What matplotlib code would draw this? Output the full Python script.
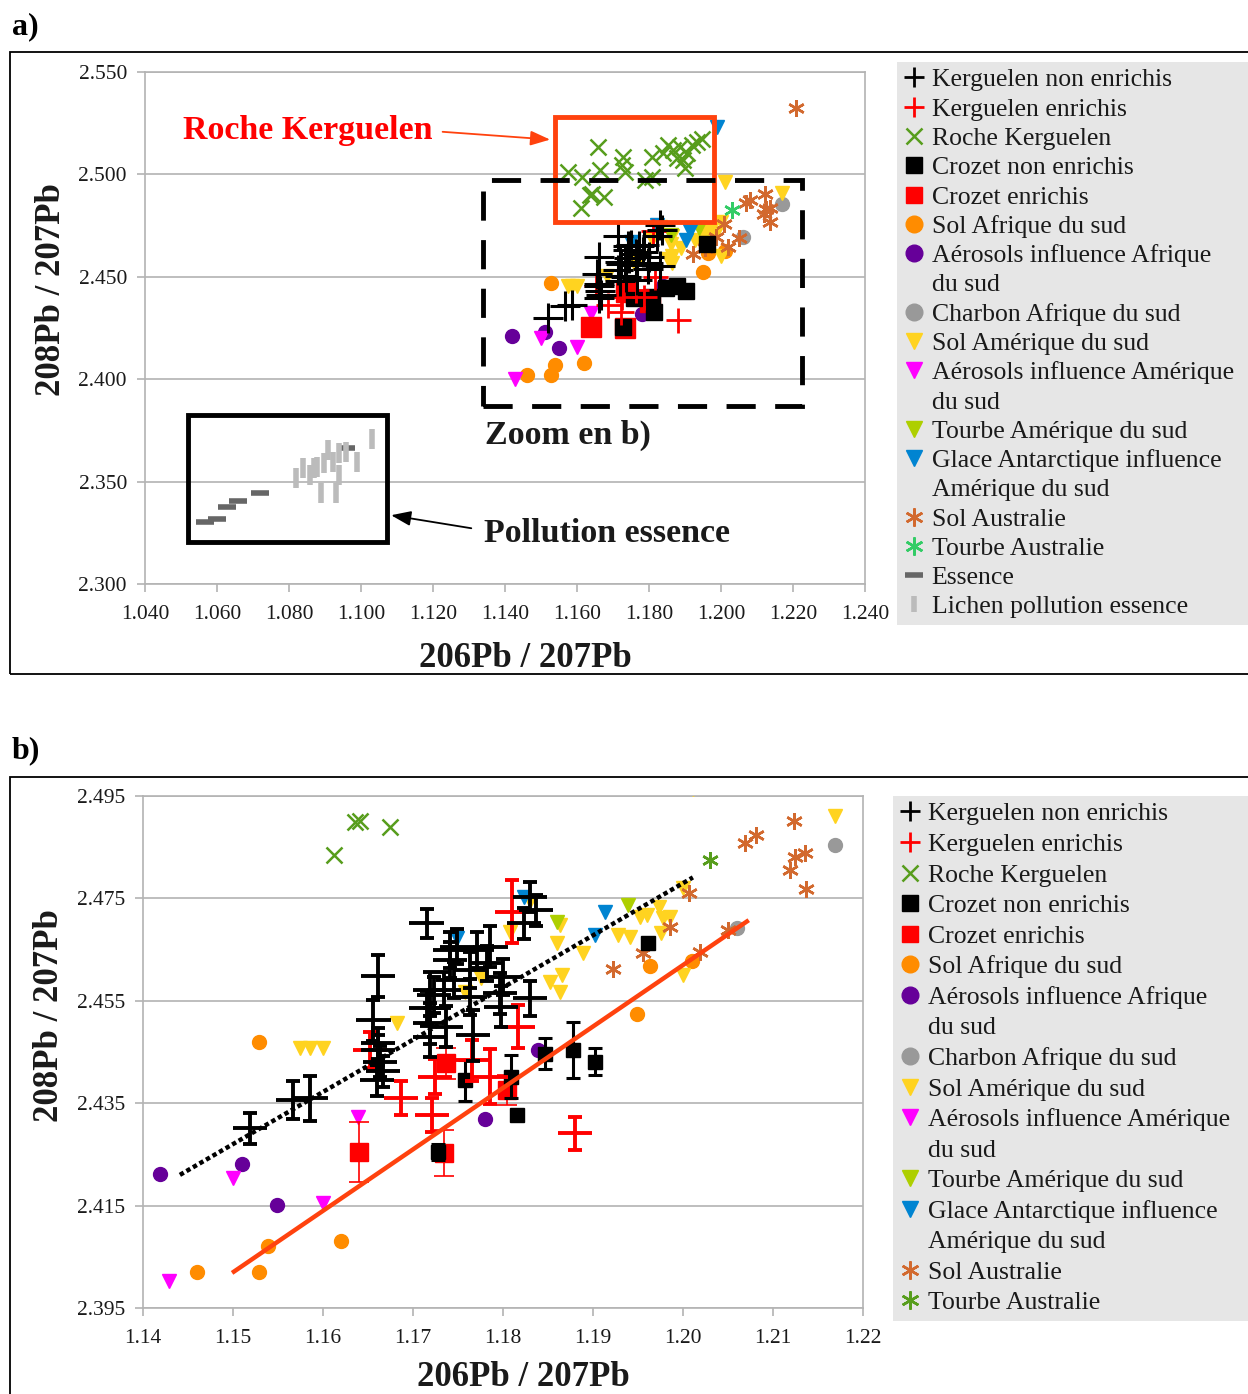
"""
Rapports isotopiques du plomb : 208Pb/207Pb en fonction de 206Pb/207Pb.
a) vue générale avec roches et pollution essence ; b) zoom sur les échantillons.
"""

import matplotlib.pyplot as plt
from matplotlib.lines import Line2D
from matplotlib.patches import Rectangle

plt.rcParams['font.family'] = ['Liberation Serif', 'DejaVu Serif']

W, H = 1248, 1394

# ---------------------------------------------------------------- données
# Kerguelen non enrichis (croix avec barres d'erreur)
ker_ne_x = [1.1519, 1.1567, 1.1586, 1.1661, 1.1663, 1.1667, 1.1660, 1.1661, 1.1656,
            1.1661, 1.1715, 1.1749, 1.1771, 1.1786, 1.1782, 1.1763, 1.1800, 1.1797,
            1.1830, 1.1741, 1.1745, 1.1734, 1.1723, 1.1715, 1.1763, 1.1767, 1.1719,
            1.1719, 1.1737, 1.1798, 1.1830, 1.1837, 1.1823, 1.1719, 1.1741]
ker_ne_y = [2.4301, 2.4356, 2.4360, 2.4454, 2.4431, 2.4412, 2.4395, 2.4467, 2.4512,
            2.4599, 2.4701, 2.4656, 2.4649, 2.4656, 2.4623, 2.4610, 2.4597, 2.4565,
            2.4555, 2.4630, 2.4591, 2.4571, 2.4561, 2.4535, 2.4558, 2.4483, 2.4506,
            2.4480, 2.4499, 2.4538, 2.4753, 2.4727, 2.4701, 2.4571, 2.4649]
ker_ne_yerr = [0.0030, 0.0037, 0.0044, 0.0030, 0.0030, 0.0030, 0.0030, 0.0030, 0.0040,
               0.0041, 0.0029, 0.0035, 0.0035, 0.0040, 0.0035, 0.0035, 0.0035, 0.0040,
               0.0034, 0.0035, 0.0035, 0.0035, 0.0035, 0.0035, 0.0035, 0.0050, 0.0040,
               0.0040, 0.0040, 0.0040, 0.0030, 0.0030, 0.0030, 0.0035, 0.0035]
ker_ne_xerr = 0.0019

# Kerguelen enrichis
ker_e_x = [1.1687, 1.1721, 1.1786, 1.1880, 1.1817, 1.1765, 1.1652, 1.1724, 1.1810]
ker_e_y = [2.4360, 2.4327, 2.4402, 2.4291, 2.4499, 2.4434, 2.4454, 2.4402, 2.4724]
ker_e_yerr = [0.0033, 0.0033, 0.0054, 0.0033, 0.0042, 0.0040, 0.0035, 0.0035, 0.0062]
ker_e_xerr = 0.0019

# Roche Kerguelen
roche_x = [1.1659, 1.1576, 1.1613, 1.1664, 1.1729, 1.1724, 1.1733, 1.1636, 1.1641,
           1.1674, 1.1612, 1.1789, 1.1807, 1.1840, 1.1854, 1.1868, 1.1877, 1.1886,
           1.1895, 1.1905, 1.1919, 1.1932, 1.1946, 1.1900, 1.1807]
roche_y = [2.5135, 2.5013, 2.4989, 2.5021, 2.5086, 2.5046, 2.5013, 2.4899, 2.4902,
           2.4890, 2.4835, 2.4973, 2.5086, 2.5103, 2.5144, 2.5119, 2.5079, 2.5135,
           2.5070, 2.5103, 2.5144, 2.5160, 2.5171, 2.5030, 2.4989]

# Crozet non enrichis
croz_ne_x = [1.1961, 1.1728, 1.1758, 1.1809, 1.1815, 1.1847, 1.1878, 1.1902]
croz_ne_y = [2.4662, 2.4255, 2.4395, 2.4402, 2.4327, 2.4447, 2.4454, 2.4431]
croz_ne_yerr = [0.0, 0.0015, 0.0040, 0.0042, 0.0, 0.0030, 0.0055, 0.0026]

# Crozet enrichis
croz_e_x = [1.1640, 1.1734, 1.1737, 1.1804]
croz_e_y = [2.4255, 2.4252, 2.4428, 2.4376]
croz_e_yerr = [0.0059, 0.0045, 0.0030, 0.0030]

# Sol Afrique du sud
sol_af_x = [1.1529, 1.1460, 1.1529, 1.1539, 1.1620, 1.1963, 1.2010, 1.1949]
sol_af_y = [2.4470, 2.4021, 2.4021, 2.4071, 2.4081, 2.4617, 2.4628, 2.4524]

# Aérosols influence Afrique du sud
aer_af_x = [1.1419, 1.1510, 1.1549, 1.1780, 1.1839]
aer_af_y = [2.4211, 2.4231, 2.4151, 2.4320, 2.4453]

# Charbon Afrique du sud
charbon_x = [1.2169, 1.2060]
charbon_y = [2.4854, 2.4692]

# Sol Amérique du sud
sol_am_x = [1.1574, 1.1586, 1.1600, 1.1682, 1.1758, 1.1776, 1.1808, 1.1830, 1.1863,
            1.1860, 1.1852, 1.1865, 1.1863, 1.1889, 1.1928, 1.1941, 1.1952, 1.1960,
            1.1973, 1.1978, 1.1986, 1.1976, 1.2000, 1.2000, 1.2169, 1.2011]
sol_am_y = [2.4457, 2.4457, 2.4457, 2.4506, 2.4568, 2.4594, 2.4685, 2.4744, 2.4698,
            2.4662, 2.4587, 2.4600, 2.4568, 2.4643, 2.4679, 2.4675, 2.4714, 2.4718,
            2.4734, 2.4711, 2.4714, 2.4682, 2.4770, 2.4600, 2.4910, 2.4963]

# Aérosols influence Amérique du sud
aer_am_x = [1.1429, 1.1500, 1.1600, 1.1639]
aer_am_y = [2.4003, 2.4203, 2.4156, 2.4324]

# Tourbe Amérique du sud
tourbe_am_x = [1.1939, 1.1860]
tourbe_am_y = [2.4737, 2.4704]

# Glace Antarctique influence Amérique du sud
glace_x = [1.1823, 1.1913, 1.1902, 1.1749, 1.1989]
glace_y = [2.4753, 2.4724, 2.4679, 2.4672, 2.5231]

# Sol Australie
sol_au_x = [1.2123, 1.2069, 1.2081, 1.2124, 1.2136, 1.2119, 1.2137, 1.2007, 1.1986,
            1.2050, 1.2019, 1.1922, 1.1956, 1.2208]
sol_au_y = [2.4902, 2.4858, 2.4874, 2.4831, 2.4838, 2.4805, 2.4768, 2.4760, 2.4695,
            2.4688, 2.4646, 2.4613, 2.4643, 2.5324]

# Tourbe Australie
tourbe_au_x = [1.2030]
tourbe_au_y = [2.4825]

# Essence
essence_x = [1.0567, 1.0599, 1.0628, 1.0659, 1.0719, 1.0958]
essence_y = [2.3304, 2.3316, 2.3375, 2.3407, 2.3446, 2.3666]

# Lichen pollution essence
lichen_x = [1.0819, 1.0840, 1.0858, 1.0869, 1.0879, 1.0888, 1.0897, 1.0909, 1.0923,
            1.0930, 1.0940, 1.0940, 1.0958, 1.0990, 1.1030]
lichen_y = [2.3516, 2.3565, 2.3532, 2.3565, 2.3573, 2.3446, 2.3589, 2.3654, 2.3597,
            2.3446, 2.3532, 2.3638, 2.3646, 2.3594, 2.3707]

# Droites de tendance (panneau b)
tend_noir_x = [1.1441, 1.2011]
tend_noir_y = [2.4210, 2.4791]
tend_rouge_x = [1.1501, 1.2071]
tend_rouge_y = [2.4021, 2.4705]

labels = ["Kerguelen non enrichis", "Kerguelen enrichis", "Roche Kerguelen",
          "Crozet non enrichis", "Crozet enrichis", "Sol Afrique du sud",
          "Aérosols influence Afrique\ndu sud", "Charbon Afrique du sud",
          "Sol Amérique du sud", "Aérosols influence Amérique\ndu sud",
          "Tourbe Amérique du sud", "Glace Antarctique influence\nAmérique du sud",
          "Sol Australie", "Tourbe Australie", "Essence", "Lichen pollution essence"]

ticks_a_x = [1.04 + 0.02 * i for i in range(11)]
ticks_a_y = [2.30, 2.35, 2.40, 2.45, 2.50, 2.55]
ticks_b_x = [1.14 + 0.01 * i for i in range(9)]
ticks_b_y = [2.395, 2.415, 2.435, 2.455, 2.475, 2.495]

# ---------------------------------------------------------------- couleurs
NOIR = 'black'
ROUGE = '#ff0000'
VERT = '#579d1c'
ORANGE = '#ff8c00'
VIOLET = '#660099'
GRIS = '#999999'
JAUNE = '#ffd320'
MAGENTA = '#ff00ff'
VERT_CLAIR = '#aecf00'
BLEU = '#0084d1'
BRIQUE = '#d2692e'
ASTER = (6, 2, 0)
GRILLE = '#b3b3b3'
TEXTE = '#1a1a1a'

fig = plt.figure(figsize=(W / 100, H / 100), dpi=100)


def box(px0, py0, pw, ph):
    return [px0 / W, 1 - (py0 + ph) / H, pw / W, ph / H]


def draw_data(ax, zoom, tourbe_au_color):
    ms = 10
    if zoom:
        # Kerguelen : croix formées par les barres d'erreur
        lw = 2.8
        ax.errorbar(ker_e_x, ker_e_y, yerr=ker_e_yerr, fmt='none', ecolor=ROUGE,
                    elinewidth=lw, capsize=5, capthick=lw, zorder=4)
        ax.errorbar(ker_e_x, ker_e_y, xerr=ker_e_xerr, fmt='none', ecolor=ROUGE,
                    elinewidth=lw, capsize=0, zorder=4)
        ax.errorbar(ker_ne_x, ker_ne_y, yerr=ker_ne_yerr, fmt='none', ecolor=NOIR,
                    elinewidth=lw, capsize=5, capthick=lw, zorder=4.5)
        ax.errorbar(ker_ne_x, ker_ne_y, xerr=ker_ne_xerr, fmt='none', ecolor=NOIR,
                    elinewidth=lw, capsize=0, zorder=4.5)
        ax.errorbar(croz_e_x, croz_e_y, yerr=croz_e_yerr, fmt='s', color=ROUGE, ms=13,
                    ecolor=ROUGE, elinewidth=1.2, capsize=7, capthick=1.2, zorder=3.5)
        ax.errorbar(croz_ne_x, croz_ne_y, yerr=croz_ne_yerr, fmt='s', color=NOIR, ms=10,
                    ecolor=NOIR, elinewidth=2.2, capsize=5, capthick=2.2, zorder=3.6)
    else:
        ax.plot(ker_e_x, ker_e_y, ls='none', marker='+', color=ROUGE, ms=18, mew=2, zorder=4)
        ax.plot(ker_ne_x, ker_ne_y, ls='none', marker='+', color=NOIR, ms=22, mew=2.2,
                zorder=4.5)
        ax.plot(croz_e_x, croz_e_y, ls='none', marker='s', color=ROUGE, ms=14, zorder=3.5)
        ax.plot(croz_ne_x, croz_ne_y, ls='none', marker='s', color=NOIR, ms=11, zorder=3.6)
    # autres séries
    ax.plot(roche_x, roche_y, ls='none', marker='x', color=VERT, ms=12, mew=1.8, zorder=3)
    ax.plot(sol_af_x, sol_af_y, ls='none', marker='o', color=ORANGE, ms=ms, zorder=3)
    ax.plot(aer_af_x, aer_af_y, ls='none', marker='o', color=VIOLET, ms=ms, zorder=3)
    ax.plot(charbon_x, charbon_y, ls='none', marker='o', color=GRIS, ms=ms, zorder=3)
    ax.plot(sol_am_x, sol_am_y, ls='none', marker='v', color=JAUNE, ms=ms, zorder=3)
    ax.plot(aer_am_x, aer_am_y, ls='none', marker='v', color=MAGENTA, ms=ms, zorder=3)
    ax.plot(tourbe_am_x, tourbe_am_y, ls='none', marker='v', color=VERT_CLAIR, ms=ms, zorder=3)
    ax.plot(glace_x, glace_y, ls='none', marker='v', color=BLEU, ms=ms, zorder=3)
    ax.plot(sol_au_x, sol_au_y, ls='none', marker=ASTER, color=BRIQUE, ms=12, mew=1.8, zorder=3)
    ax.plot(tourbe_au_x, tourbe_au_y, ls='none', marker=ASTER, color=tourbe_au_color,
            ms=12, mew=1.8, zorder=3)


def style_axes(ax, xticks, yticks, xfmt, yfmt):
    ax.set_xlim(xticks[0], xticks[-1])
    ax.set_ylim(yticks[0], yticks[-1])
    ax.set_xticks(xticks)
    ax.set_yticks(yticks)
    ax.set_xticklabels([xfmt.format(v) for v in xticks])
    ax.set_yticklabels([yfmt.format(v) for v in yticks])
    for s in ax.spines.values():
        s.set_color(GRILLE)
        s.set_linewidth(1.2)
    ax.grid(axis='y', color=GRILLE, lw=1.2, zorder=0)
    ax.set_axisbelow(True)
    ax.tick_params(axis='both', direction='out', length=6, width=1.2, color=GRILLE,
                   labelsize=15.5, labelcolor=TEXTE)
    ax.tick_params(axis='x', pad=9)
    ax.tick_params(axis='y', pad=7)


def legend_handles(tourbe_au_color, pollution):
    h = [
        Line2D([], [], ls='none', marker='+', color=NOIR, ms=14, mew=2),
        Line2D([], [], ls='none', marker='+', color=ROUGE, ms=14, mew=2),
        Line2D([], [], ls='none', marker='x', color=VERT, ms=12, mew=1.8),
        Line2D([], [], ls='none', marker='s', color=NOIR, ms=12),
        Line2D([], [], ls='none', marker='s', color=ROUGE, ms=12),
        Line2D([], [], ls='none', marker='o', color=ORANGE, ms=12),
        Line2D([], [], ls='none', marker='o', color=VIOLET, ms=12),
        Line2D([], [], ls='none', marker='o', color=GRIS, ms=12),
        Line2D([], [], ls='none', marker='v', color=JAUNE, ms=12),
        Line2D([], [], ls='none', marker='v', color=MAGENTA, ms=12),
        Line2D([], [], ls='none', marker='v', color=VERT_CLAIR, ms=12),
        Line2D([], [], ls='none', marker='v', color=BLEU, ms=12),
        Line2D([], [], ls='none', marker=ASTER, color=BRIQUE, ms=13, mew=1.8),
        Line2D([], [], ls='none', marker=ASTER, color=tourbe_au_color, ms=13, mew=1.8),
    ]
    if pollution:
        h += [Line2D([], [], ls='none', marker='_', color='#666666', ms=13, mew=4),
              Line2D([], [], ls='none', marker='|', color='#bbbbbb', ms=12, mew=4)]
    return h


def add_legend(handles, px0, py0, py1, spacing):
    # les libellés sur deux lignes deviennent deux entrées (la 2e sans symbole)
    hh, ll = [], []
    for h, lab in zip(handles, labels):
        parts = lab.split('\n')
        hh.append(h)
        ll.append(parts[0])
        for p in parts[1:]:
            hh.append(Line2D([], [], ls='none'))
            ll.append(p)
    leg = fig.legend(hh, ll, loc='upper left',
                     bbox_to_anchor=(px0 / W, 1 - py1 / H, (1270 - px0) / W, (py1 - py0) / H),
                     bbox_transform=fig.transFigure, mode='expand',
                     borderaxespad=0, fontsize=18.5, frameon=True, fancybox=False,
                     facecolor='#e6e6e6', edgecolor='none', framealpha=1,
                     handlelength=0.85, handletextpad=0.25, borderpad=0.25,
                     labelspacing=spacing)
    for t in leg.get_texts():
        t.set_color(TEXTE)
    return leg


# ---------------------------------------------------------------- panneau a
ax_a = fig.add_axes(box(145, 72, 720, 512))
style_axes(ax_a, ticks_a_x, ticks_a_y, '{:.3f}', '{:.3f}')
draw_data(ax_a, False, '#33cc66')
ax_a.plot(essence_x, essence_y, ls='none', marker='_', color='#666666', ms=13, mew=4, zorder=3)
ax_a.plot(lichen_x, lichen_y, ls='none', marker='|', color='#bbbbbb', ms=14, mew=4, zorder=3)

# annotations
ax_a.add_patch(Rectangle((1.1539, 2.4768), 0.0442, 0.0512, fill=False,
                         edgecolor='#ff420e', lw=3.5, zorder=6))
ax_a.add_patch(Rectangle((1.1339, 2.3869), 0.0886, 0.1104, fill=False,
                         edgecolor='black', lw=3.5, ls=(0, (6, 4)), zorder=6))
ax_a.add_patch(Rectangle((1.0519, 2.3205), 0.0553, 0.0620, fill=False,
                         edgecolor='black', lw=3.5, zorder=6))
ax_a.text(1.0506, 2.5215, 'Roche Kerguelen', color=ROUGE, fontsize=24.5, fontweight='bold',
          va='center', ha='left', zorder=7)
ax_a.annotate('', xy=(1.1533, 2.5169), xytext=(1.1219, 2.5209),
              arrowprops=dict(arrowstyle='-|>,head_length=1.2,head_width=0.45',
                              color='#ff420e', lw=1.3), zorder=7)
ax_a.text(1.1344, 2.3728, 'Zoom en b)', color=TEXTE, fontsize=24.5, fontweight='bold',
          va='center', ha='left', zorder=7)
ax_a.text(1.1342, 2.3249, 'Pollution essence', color=TEXTE, fontsize=24.5,
          fontweight='bold', va='center', ha='left', zorder=7)
ax_a.annotate('', xy=(1.1076, 2.3338), xytext=(1.1314, 2.3270),
              arrowprops=dict(arrowstyle='-|>,head_length=1.2,head_width=0.45',
                              color='black', lw=1.3), zorder=7)

add_legend(legend_handles('#33cc66', True), 897, 62, 620, 0.245)

# ---------------------------------------------------------------- panneau b
ax_b = fig.add_axes(box(143, 796, 720, 512))
style_axes(ax_b, ticks_b_x, ticks_b_y, '{:.2f}', '{:.3f}')
draw_data(ax_b, True, VERT)
ax_b.plot(tend_noir_x, tend_noir_y, color='black', lw=3.2, ls=(0, (1, 0.7)), zorder=6)
ax_b.plot(tend_rouge_x, tend_rouge_y, color='#ff420e', lw=3.2, zorder=6)

add_legend(legend_handles(VERT, False), 893, 796, 1313, 0.295)

# ---------------------------------------------------------------- textes / cadres
lab = dict(fontsize=25, fontweight='bold', color=TEXTE, ha='center', va='center')
fig.text(52 / W, 1 - 290 / H, '208Pb / 207Pb', rotation=90, **lab)
fig.text(525 / W, 1 - 659 / H, '206Pb / 207Pb', **lab)
fig.text(50 / W, 1 - 1016 / H, '208Pb / 207Pb', rotation=90, **lab)
fig.text(523 / W, 1 - 1378 / H, '206Pb / 207Pb', **lab)
fig.text(12 / W, 1 - 27 / H, 'a)', fontsize=23, fontweight='bold', ha='left', va='center')
fig.text(12 / W, 1 - 751 / H, 'b)', fontsize=23, fontweight='bold', ha='left', va='center')

fig.patches.append(Rectangle((10 / W, 1 - 674 / H), 1.0, 622 / H, fill=False,
                             edgecolor='black', lw=1.3, transform=fig.transFigure,
                             figure=fig))
fig.patches.append(Rectangle((10 / W, -0.05), 1.0, 1 - 777 / H + 0.05, fill=False,
                             edgecolor='black', lw=1.3, transform=fig.transFigure,
                             figure=fig))

fig.savefig('out.png', dpi=100)
